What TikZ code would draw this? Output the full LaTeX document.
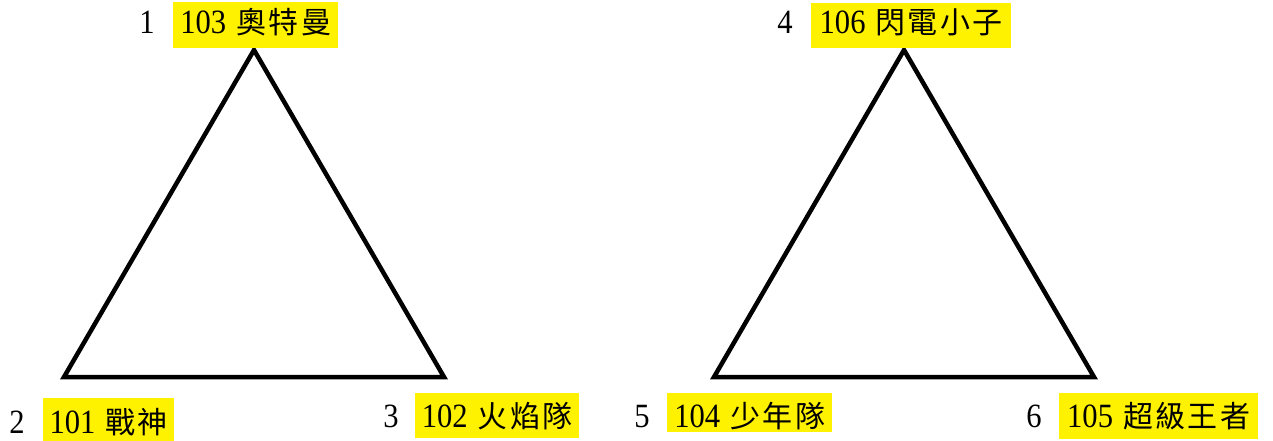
\documentclass[tikz,border=0pt]{standalone}
\usepackage{fontspec}
\setmainfont[FakeStretch=0.9]{Liberation Serif}
\newfontfamily\cjk[LetterSpace=8]{Noto Sans CJK TC}
\newcommand{\hlabel}[2]{#1\hspace{10pt}{\cjk\fontsize{30}{30}\selectfont #2}}
\begin{document}
\begin{tikzpicture}[x=1pt,y=-1pt,
  tri/.style={draw=black,line width=4.5pt,line join=miter},
  hl/.style={fill=yellow,inner sep=0pt,anchor=base west,font=\fontsize{34}{34}\selectfont},
  num/.style={inner sep=0pt,anchor=base,font=\fontsize{34}{34}\selectfont}]
\useasboundingbox (0,0) rectangle (1273,441);
% left triangle
\coordinate (t1) at (254,50);
\coordinate (l1) at (64,377);
\coordinate (r1) at (444,377);
\draw[tri] (t1) -- (l1) -- (r1) -- cycle;
% right triangle
\coordinate (t2) at (904,50);
\coordinate (l2) at (714,377);
\coordinate (r2) at (1094,377);
\draw[tri] (t2) -- (l2) -- (r2) -- cycle;
% labels
\node[num] (n1) at (147,34) {1};
\node[hl,minimum width=165pt,text height=32pt,text depth=14pt] (b1) at (173,34) {\hlabel{103}{奧特曼}};
\node[num] (n2) at (17,433) {2};
\node[hl,minimum width=131pt,text height=35pt,text depth=8pt] (b2) at (43,433) {\hlabel{101}{戰神}};
\node[num] (n3) at (391,427) {3};
\node[hl,minimum width=164pt,text height=34pt,text depth=11pt] (b3) at (415,427) {\hlabel{102}{火焰隊}};
\node[num] (n4) at (785,34) {4};
\node[hl,minimum width=200pt,text height=31pt,text depth=14pt] (b4) at (811,34) {\hlabel{106}{閃電小子}};
\node[num] (n5) at (642,427) {5};
\node[hl,minimum width=165pt,text height=34pt,text depth=5pt] (b5) at (667,427) {\hlabel{104}{少年隊}};
\node[num] (n6) at (1034,427) {6};
\node[hl,minimum width=199pt,text height=34pt,text depth=12pt] (b6) at (1059,427) {\hlabel{105}{超級王者}};
\end{tikzpicture}
\end{document}
